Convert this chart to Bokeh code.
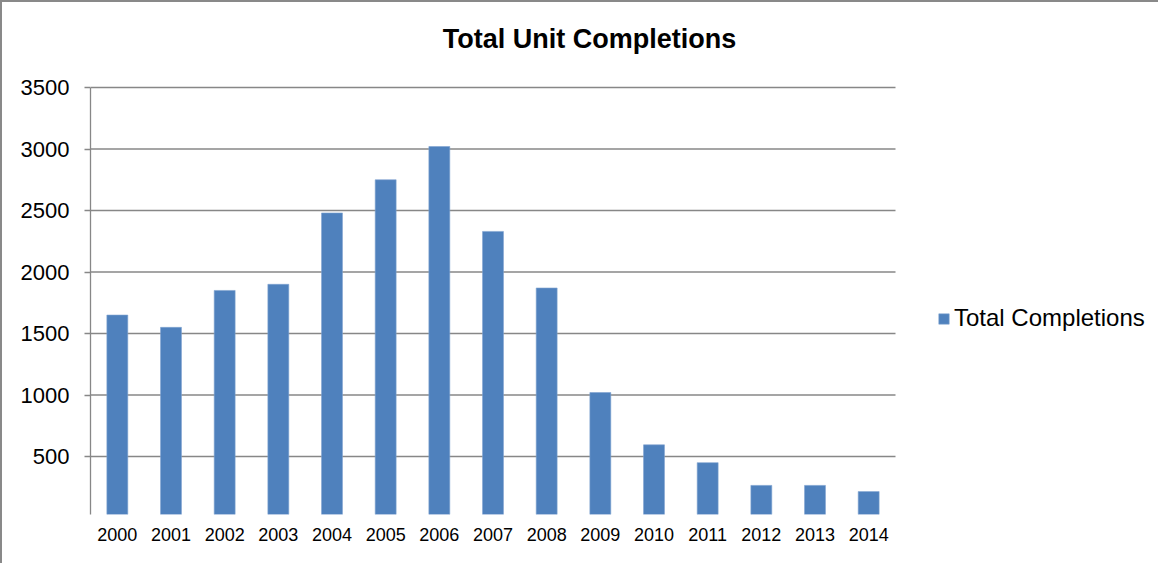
from bokeh.plotting import figure
from bokeh.models import Range1d, FixedTicker, Legend, LegendItem, ColumnDataSource, Label
from bokeh.embed import file_html
from bokeh.resources import INLINE

years = ["2000", "2001", "2002", "2003", "2004", "2005", "2006", "2007",
         "2008", "2009", "2010", "2011", "2012", "2013", "2014"]
completions = [1650, 1550, 1850, 1900, 2480, 2750, 3020, 2330,
               1870, 1020, 595, 450, 265, 265, 215]
y_ticks = [0, 500, 1000, 1500, 2000, 2500, 3000, 3500]
title_text = "Total Unit Completions"
series_name = "Total Completions"

FONT = "Liberation Sans"
GRID = "#878787"
BAR = "#4F81BD"

n = len(years)
xpos = [i + 0.5 for i in range(n)]
ymax = max(y_ticks)
src = ColumnDataSource(dict(x=xpos, top=completions, year=years))

# canvas geometry (px)
W, H = 1158, 563
FL, FB = 88, 51            # frame left / bottom margins
PLOT_W = 805               # width used by the 15 categories
PLOT_TOP = 85              # canvas y of the top gridline
frame_w = W - FL
frame_h = H - FB
px_per_unit = (frame_h - PLOT_TOP + 3.5) / ymax
y_start = 3.5 / px_per_unit
y_end = ymax + PLOT_TOP / px_per_unit
x_end = n * frame_w / PLOT_W

p = figure(width=W, height=H, output_backend="svg", toolbar_location=None,
           x_range=Range1d(0, x_end), y_range=Range1d(y_start, y_end),
           min_border_left=FL, min_border_right=0, min_border_top=0, min_border_bottom=FB)
p.styles = {"border-left": "2px solid #898989", "border-top": "2px solid #898989"}
p.background_fill_color = "white"
p.border_fill_color = "white"
p.outline_line_color = None
p.xgrid.grid_line_color = None
p.ygrid.grid_line_color = None

# horizontal gridlines spanning the category area only
p.segment(x0=0, x1=n, y0=y_ticks, y1=y_ticks, line_color=GRID, line_width=1.3)

r = p.vbar(x="x", top="top", bottom=0, width=0.39, source=src,
           fill_color=BAR, line_color="#7FA3D0", line_width=0.6)

p.yaxis.ticker = FixedTicker(ticks=y_ticks)
p.yaxis.bounds = (y_start, ymax)
p.yaxis.axis_line_color = GRID
p.yaxis.axis_line_width = 1.3
p.yaxis.major_tick_line_color = GRID
p.yaxis.major_tick_line_width = 1.3
p.yaxis.major_tick_out = 6
p.yaxis.major_tick_in = 0
p.yaxis.minor_tick_line_color = None
p.yaxis.major_label_text_font = FONT
p.yaxis.major_label_text_font_size = "22px"
p.yaxis.major_label_text_color = "black"
p.yaxis.major_label_standoff = 15

p.xaxis.ticker = FixedTicker(ticks=xpos)
p.xaxis.major_label_overrides = {x: y for x, y in zip(xpos, years)}
p.xaxis.axis_line_color = None
p.xaxis.major_tick_line_color = None
p.xaxis.minor_tick_line_color = None
p.xaxis.major_label_text_font = FONT
p.xaxis.major_label_text_font_size = "18px"
p.xaxis.major_label_text_color = "black"
p.xaxis.major_label_standoff = 7

title = Label(x=499, y=476, x_units="screen", y_units="screen", text=title_text,
              text_font=FONT, text_font_size="27px", text_font_style="bold",
              text_color="black", text_align="center", text_baseline="alphabetic")
p.add_layout(title)

legend = Legend(items=[LegendItem(label=series_name, renderers=[r])],
                location=(847, 182), orientation="vertical",
                border_line_color=None, background_fill_alpha=0,
                label_text_font=FONT, label_text_font_size="24px",
                label_text_color="black", glyph_width=13, glyph_height=13,
                label_standoff=4, padding=0, margin=0, spacing=0)
p.add_layout(legend, "center")

open("out.html", "w").write(file_html(p, INLINE))
